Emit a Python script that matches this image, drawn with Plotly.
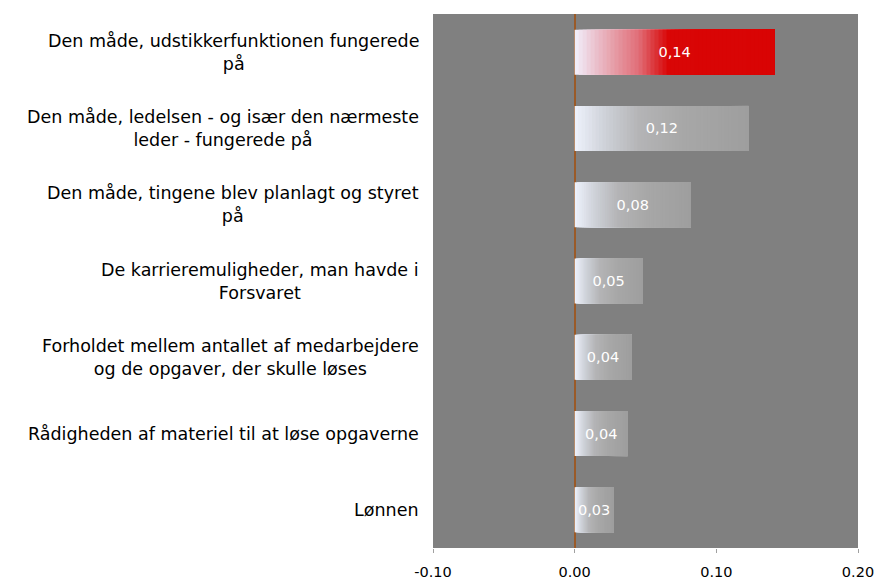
import plotly.graph_objects as go
import numpy as np

categories = [
    "Den måde, udstikkerfunktionen fungerede<br>på",
    "Den måde, ledelsen - og især den nærmeste<br>leder - fungerede på",
    "Den måde, tingene blev planlagt og styret<br>på",
    "De karrieremuligheder, man havde i<br>Forsvaret",
    "Forholdet mellem antallet af medarbejdere<br>og de opgaver, der skulle løses",
    "Rådigheden af materiel til at løse opgaverne",
    "Lønnen",
]
values = [0.141, 0.123, 0.082, 0.048, 0.040, 0.0375, 0.0275]
labels = ["0,14", "0,12", "0,08", "0,05", "0,04", "0,04", "0,03"]
highlight = [True, False, False, False, False, False, False]

x_ticks = [-0.10, 0.00, 0.10, 0.20]
x_ticktext = ["-0.10", "0.00", "0.10", "0.20"]

# gradient stops (position fraction, rgb)
red_stops = [(0.0, (242, 240, 252)), (0.1, (235, 195, 207)), (0.24, (228, 140, 150)),
             (0.32, (225, 110, 120)), (0.39, (220, 60, 65)), (0.47, (217, 6, 6)), (1.0, (217, 4, 4))]
gray_stops = [(0.0, (238, 242, 252)), (0.18, (205, 208, 215)), (0.37, (180, 180, 182)),
              (0.6, (168, 168, 168)), (1.0, (158, 158, 158))]


def interp(stops, t):
    for (p0, c0), (p1, c1) in zip(stops[:-1], stops[1:]):
        if p0 <= t <= p1:
            f = (t - p0) / (p1 - p0) if p1 > p0 else 0
            return "rgb(%d,%d,%d)" % tuple(round(a + (b - a) * f) for a, b in zip(c0, c1))
    c = stops[-1][1]
    return "rgb(%d,%d,%d)" % c


N = 50
fig = go.Figure()
vals = np.array(values)
for i in range(N):
    t = (i + 0.5) / N
    colors = [interp(red_stops if h else gray_stops, t) for h in highlight]
    fig.add_trace(go.Bar(
        y=categories, x=vals * (1 - i / N), base=vals * i / N, orientation="h",
        marker=dict(color=colors, line=dict(width=0)),
        width=0.59, showlegend=False, hoverinfo="skip",
    ))

fig.add_trace(go.Bar(
    y=categories, x=values, orientation="h",
    marker=dict(color="rgba(0,0,0,0)", line=dict(width=0)),
    width=0.59, text=labels, textposition="inside", insidetextanchor="middle",
    textfont=dict(color="white", size=14.5, family="DejaVu Sans"),
    showlegend=False,
))

for c in categories:
    fig.add_annotation(
        x=0, xref="paper", y=c, yref="y", text=c, showarrow=False,
        xanchor="right", align="center", xshift=-12,
        font=dict(family="DejaVu Sans", size=17.5, color="black"),
    )

fig.update_layout(
    width=879, height=580, barmode="overlay",
    paper_bgcolor="white", plot_bgcolor="#808080",
    margin=dict(l=433, r=21, t=14, b=32, autoexpand=False),
    font=dict(family="DejaVu Sans", size=14.5, color="black"),
)
fig.update_xaxes(
    range=[-0.1, 0.2], tickvals=x_ticks, ticktext=x_ticktext, automargin=False,
    showgrid=False, zeroline=True, zerolinecolor="#9a5a28", zerolinewidth=2,
    ticks="outside", ticklen=4, tickcolor="#a0a0a0", ticklabelstandoff=7,
    showline=False,
)
fig.update_yaxes(
    autorange="reversed", showticklabels=False, showgrid=False, zeroline=False, ticks="",
    automargin=False,
)

fig.write_html(
    "out.html",
    config={"displayModeBar": False},
    post_script="document.body.style.margin='0';document.body.style.overflow='hidden';",
)
